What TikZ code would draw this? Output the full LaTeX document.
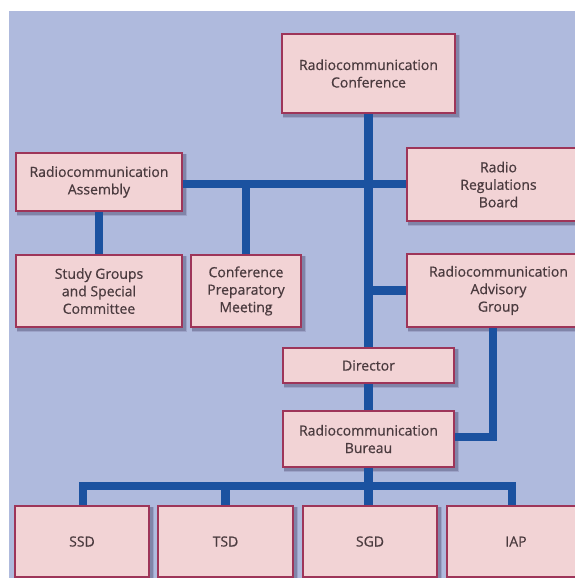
\documentclass[tikz,border=0pt]{standalone}
\usepackage{fontspec}
\setmainfont{Open Sans}[FakeBold=0.6]
\usetikzlibrary{calc}
\definecolor{bgblue}{HTML}{AFBADD}
\definecolor{boxfill}{HTML}{F2D3D5}
\definecolor{boxedge}{HTML}{9E3559}
\definecolor{linkblue}{HTML}{1B52A0}
\definecolor{txt}{HTML}{4A3A3E}
\definecolor{shadeA}{HTML}{9DA3C8}
\definecolor{shadeB}{HTML}{8084A8}
\pgfdeclarelayer{backdrop}
\pgfdeclarelayer{shade}
\pgfdeclarelayer{links}
\pgfsetlayers{backdrop,shade,links,main}
\tikzset{
  orgbox/.style={draw=boxedge, line width=1.6pt, fill=boxfill, text=txt,
    align=center, inner sep=0pt,
    font=\fontsize{14pt}{17.5pt}\selectfont},
  link/.style={draw=linkblue, line width=8.5pt, line join=miter}
}
\begin{document}
\begin{tikzpicture}[x=1pt, y=-1pt]
\useasboundingbox (0,0) rectangle (575,578);
\begin{pgfonlayer}{backdrop}
  \fill[bgblue] (9,11) rectangle (580,583);
\end{pgfonlayer}

% boxes
\node[orgbox, minimum width=173pt, minimum height=79pt] (conf) at (368.5,73.5) {Radiocommunication\\Conference};
\node[orgbox, minimum width=166pt, minimum height=58pt] (asm) at (99,182) {Radiocommunication\\Assembly};
\node[orgbox, minimum width=183pt, minimum height=73pt] (rrb) at (498.5,184.5) {Radio\\Regulations\\Board};
\node[orgbox, minimum width=166pt, minimum height=72pt] (sg) at (99,291) {Study Groups\\and Special\\Committee};
\node[orgbox, minimum width=110pt, minimum height=72pt] (cpm) at (246,291) {Conference\\Preparatory\\Meeting};
\node[orgbox, minimum width=183pt, minimum height=73pt] (rag) at (498.5,290.5) {Radiocommunication\\Advisory\\Group};
\node[orgbox, minimum width=171pt, minimum height=35pt] (dir) at (368.5,365.5) {Director};
\node[orgbox, minimum width=171pt, minimum height=56pt] (bur) at (368.5,439) {Radiocommunication\\Bureau};
\node[orgbox, minimum width=134pt, minimum height=71pt] (ssd) at (82,541.5) {SSD};
\node[orgbox, minimum width=135pt, minimum height=71pt] (tsd) at (225.5,541.5) {TSD};
\node[orgbox, minimum width=134pt, minimum height=71pt] (sgd) at (370,541.5) {SGD};
\node[orgbox, minimum width=138pt, minimum height=71pt] (iap) at (516,541.5) {IAP};

% soft drop shadows, right and below each box
\begin{pgfonlayer}{shade}
  \foreach \b in {conf,asm,rrb,sg,cpm,rag,dir,bur,ssd,tsd,sgd,iap}{
    \fill[shadeA] ($(\b.north west)+(2,2)$) rectangle ($(\b.south east)+(4.5,4.5)$);
    \fill[shadeB] ($(\b.north west)+(1.5,1.5)$) rectangle ($(\b.south east)+(2.8,2.8)$);
  }
\end{pgfonlayer}

% reference lines for the buses
\coordinate (bar) at (0,184);
\coordinate (bus) at (0,486);
\coordinate (ragdrop) at (493,0);
\coordinate (ssddrop) at (83,0);
\coordinate (iapdrop) at (512,0);

% connectors
\begin{pgfonlayer}{links}
  \draw[link] (conf.south) -- (dir.north);
  \draw[link] (asm.east |- bar) -- (rrb.west |- bar);
  \draw[link] (cpm.north) -- (cpm.north |- bar);
  \draw[link] (asm.south) -- (sg.north);
  \draw[link] (rag.west) -- (rag.west -| conf.south);
  \draw[link] (dir.south) -- (bur.north);
  \draw[link] (rag.south -| ragdrop) |- (bur.east |- 0,437);
  \draw[link] (bur.south) -- (bur.south |- bus);
  \draw[link] (ssd.north -| ssddrop) -- (ssddrop |- bus) -- (iapdrop |- bus) -- (iap.north -| iapdrop);
  \draw[link] (tsd.north) -- (tsd.north |- bus);
  \draw[link] (sgd.north -| bur.south) -- (bur.south |- bus);
\end{pgfonlayer}
\end{tikzpicture}
\end{document}
